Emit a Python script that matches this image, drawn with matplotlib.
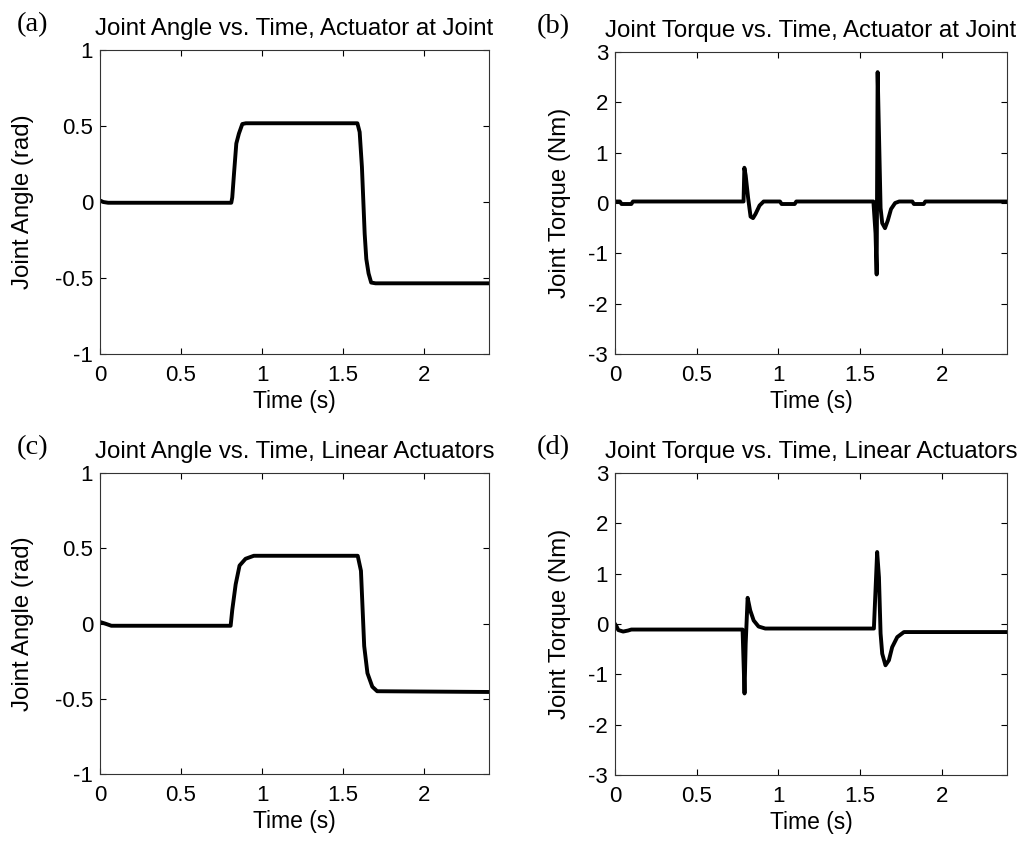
import matplotlib
matplotlib.use("Agg")
from matplotlib import pyplot as plt

plt.rcParams["font.family"] = ["Liberation Sans", "DejaVu Sans"]

W, H = 1020, 841
LW = 2.8
FS = 16

# (a) joint angle, actuator at joint
t_a = [0, 0.02, 0.05, 0.81, 0.816, 0.827, 0.841, 0.857, 0.878, 0.90,
       1.588, 1.602, 1.616, 1.633, 1.643, 1.657, 1.673, 1.70, 2.4]
v_a = [0.01, 0.0, -0.005, -0.005, 0.03, 0.19, 0.385, 0.45, 0.513, 0.518,
       0.518, 0.46, 0.23, -0.21, -0.375, -0.47, -0.53, -0.535, -0.535]

# (b) joint torque, actuator at joint
t_b = [0, 0.03, 0.04, 0.10, 0.11, 0.787, 0.792, 0.80, 0.815, 0.83, 0.845,
       0.86, 0.885, 0.91, 1.01, 1.02, 1.10, 1.11, 1.582, 1.595, 1.602,
       1.608, 1.616, 1.626, 1.636, 1.653, 1.67, 1.69, 1.715, 1.74, 1.82,
       1.83, 1.89, 1.90, 2.4]
v_b = [0.03, 0.03, -0.02, -0.02, 0.03, 0.03, 0.7, 0.55, 0.1, -0.27, -0.3,
       -0.22, -0.05, 0.03, 0.03, -0.02, -0.02, 0.03, 0.03, -0.6, -1.42,
       2.6, 1.4, -0.1, -0.4, -0.5, -0.35, -0.12, 0.0, 0.03, 0.03,
       -0.02, -0.02, 0.03, 0.03]

# (c) joint angle, linear actuators
t_c = [0, 0.03, 0.07, 0.806, 0.816, 0.837, 0.861, 0.898, 0.949, 1.59,
       1.61, 1.63, 1.65, 1.68, 1.71, 2.4]
v_c = [0.01, 0.0, -0.015, -0.015, 0.09, 0.26, 0.385, 0.43, 0.45, 0.45,
       0.35, -0.15, -0.33, -0.42, -0.45, -0.455]

# (d) joint torque, linear actuators
t_d = [0, 0.01, 0.02, 0.05, 0.08, 0.10, 0.781, 0.793, 0.80, 0.812, 0.828,
       0.849, 0.879, 0.92, 1.585, 1.605, 1.616, 1.626, 1.636, 1.656, 1.677,
       1.697, 1.728, 1.769, 2.4]
v_d = [0.0, -0.05, -0.12, -0.15, -0.13, -0.11, -0.11, -1.38, -0.4, 0.52,
       0.27, 0.07, -0.05, -0.09, -0.09, 1.43, 0.93, -0.19, -0.59, -0.82,
       -0.72, -0.46, -0.26, -0.16, -0.16]

x_ticks = [0, 0.5, 1, 1.5, 2]
x_labels = ["0", "0.5", "1", "1.5", "2"]
angle_ticks = [-1, -0.5, 0, 0.5, 1]
angle_labels = ["-1", "-0.5", "0", "0.5", "1"]
torque_ticks = [-3, -2, -1, 0, 1, 2, 3]
torque_labels = ["-3", "-2", "-1", "0", "1", "2", "3"]

panels = [
    # letter, title, ylabel, t, v, yticks, ylabels, ylim, box (px: left, top, right, bottom)
    ("(a)", "Joint Angle vs. Time, Actuator at Joint", "Joint Angle (rad)",
     t_a, v_a, angle_ticks, angle_labels, (-1, 1), (100, 50, 489, 354)),
    ("(b)", "Joint Torque vs. Time, Actuator at Joint", "Joint Torque (Nm)",
     t_b, v_b, torque_ticks, torque_labels, (-3, 3), (615, 52, 1007, 354)),
    ("(c)", "Joint Angle vs. Time, Linear Actuators", "Joint Angle (rad)",
     t_c, v_c, angle_ticks, angle_labels, (-1, 1), (100, 473, 489, 774)),
    ("(d)", "Joint Torque vs. Time, Linear Actuators", "Joint Torque (Nm)",
     t_d, v_d, torque_ticks, torque_labels, (-3, 3), (615, 473, 1007, 775)),
]

fig = plt.figure(figsize=(W / 100, H / 100), dpi=100)

for letter, title, ylab, t, v, yt, yl, ylim, box in panels:
    l, top, r, b = box
    ax = fig.add_axes([l / W, 1 - b / H, (r - l) / W, (b - top) / H])
    ax.plot(t, v, "-", color="black", lw=LW, solid_joinstyle="round")
    ax.set_xlim(0, 2.4)
    ax.set_ylim(*ylim)
    ax.set_xticks(x_ticks)
    ax.set_xticklabels(x_labels)
    ax.set_yticks(yt)
    ax.set_yticklabels(yl)
    ax.tick_params(direction="in", length=4, width=0.8, top=True, right=True,
                   labelsize=FS, colors="black")
    ax.tick_params(axis="x", pad=8)
    ax.tick_params(axis="y", pad=5)
    for s in ax.spines.values():
        s.set_linewidth(0.8)
        s.set_color("#333333")
    ax.set_title(title, fontsize=17.3, pad=11)
    ax.set_xlabel("Time (s)", fontsize=16.5)
    ax.set_ylabel(ylab, fontsize=17.3)
    ax.xaxis.set_label_coords(0.5, -(36 / (b - top)))
    ax.yaxis.set_label_coords(-((l - (34 if l < 500 else 571)) / (r - l)), 0.5)
    lx = 17 if l < 500 else 537
    fig.text(lx / W, 1 - (top - 25) / H, letter, fontsize=20.5,
             family=["Liberation Serif", "DejaVu Serif"], va="center", ha="left")

fig.savefig("out.png", dpi=100)
